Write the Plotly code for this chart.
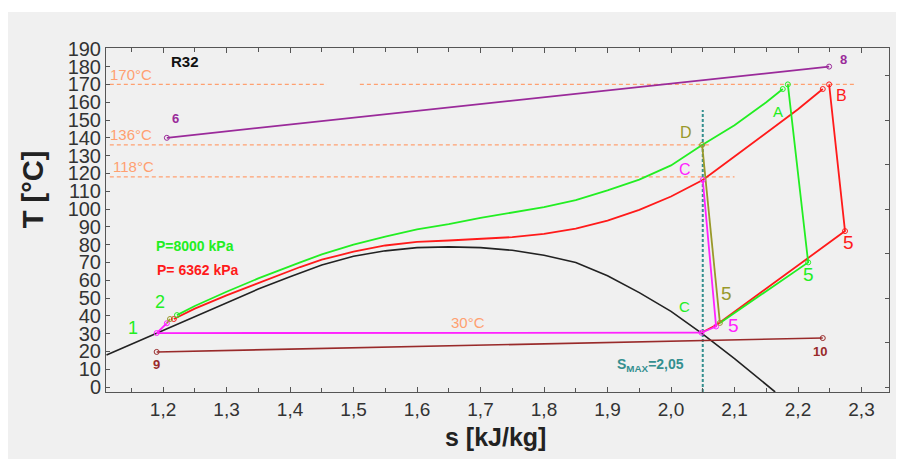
import plotly.graph_objects as go

# ---------------- data ----------------
# saturation dome (black)
dome_s = [1.111, 1.19, 1.25, 1.30, 1.35, 1.40, 1.45, 1.50, 1.55, 1.60, 1.65, 1.70, 1.75, 1.80, 1.85, 1.90, 1.95, 2.00, 2.048, 2.10, 2.164]
dome_T = [18.0, 30.3, 39.5, 47.5, 55.0, 62.0, 68.5, 73.5, 76.5, 78.3, 78.7, 78.3, 76.8, 74.0, 70.0, 62.5, 53.0, 42.5, 30.3, 16.0, -2.8]

# P = 8000 kPa (green)
green_s = [1.222, 1.25, 1.30, 1.35, 1.416, 1.45, 1.50, 1.55, 1.60, 1.65, 1.70, 1.75, 1.80, 1.85, 1.90, 1.95, 2.00, 2.049, 2.10, 2.15, 2.176]
green_T = [40.4, 45.5, 53.5, 61.0, 70.0, 74.5, 80.0, 84.5, 88.5, 91.5, 95.0, 98.0, 101.0, 105.0, 110.5, 116.5, 124.5, 136.0, 147.0, 160.0, 167.4]
green_exp_s = [2.184, 2.216, 2.077]
green_exp_T = [170.0, 70.0, 36.0]

# P = 6362 kPa (red)
red_s = [1.217, 1.25, 1.30, 1.35, 1.416, 1.45, 1.50, 1.55, 1.60, 1.65, 1.70, 1.75, 1.80, 1.85, 1.90, 1.95, 2.00, 2.05, 2.10, 2.15, 2.20, 2.239]
red_T = [38.2, 44.0, 51.5, 58.5, 67.4, 71.5, 76.0, 79.5, 81.5, 82.3, 83.2, 84.2, 86.0, 89.0, 93.5, 99.5, 107.0, 116.3, 129.5, 142.5, 156.0, 167.4]
red_exp_s = [2.249, 2.274, 2.072]
red_exp_T = [170.0, 87.6, 35.0]

# magenta cycle (C -> 5 -> C -> 1 -> up)
mag_s = [2.05, 2.071, 2.048, 1.19, 1.206]
mag_T = [116.3, 34.0, 30.5, 30.3, 35.8]

# olive (D -> 5) and small olive step near 1
olive_s = [2.049, 2.077]
olive_T = [136.0, 36.0]
olive2_s = [1.206, 1.211]
olive2_T = [35.8, 38.2]

# purple 6 -> 8
purple_s = [1.206, 2.249]
purple_T = [140.0, 180.0]

# brown 9 -> 10
brown_s = [1.19, 2.239]
brown_T = [19.7, 27.5]

# reference temperature lines
ref_T = [170, 136, 118]
ref_s_end = [2.29, 2.061, 2.10]
ref_gap = [1.458, 1.51]   # gap in the 170 line

s_max = 2.05
s_max_top = 155.6

x_ticks = [1.2, 1.3, 1.4, 1.5, 1.6, 1.7, 1.8, 1.9, 2.0, 2.1, 2.2, 2.3]
x_ticktext = ["1,2", "1,3", "1,4", "1,5", "1,6", "1,7", "1,8", "1,9", "2,0", "2,1", "2,2", "2,3"]
y_ticks = list(range(0, 200, 10))

X_RANGE = [1.1102, 2.3433]
Y_RANGE = [-2.81, 190.45]

# ---------------- colours ----------------
C_GREEN = "#22ee22"
C_RED = "#ff1a1a"
C_MAG = "#ff22ff"
C_OLIVE = "#99992a"
C_PURPLE = "#9a2a9a"
C_BROWN = "#992a2a"
C_ORANGE = "#ffa070"
C_TEAL = "#348f8f"
FONT = "Arial, Liberation Sans, sans-serif"

fig = go.Figure()

def line(x, y, color, width=1.8, dash=None):
    fig.add_trace(go.Scatter(x=x, y=y, mode="lines",
                             line=dict(color=color, width=width, dash=dash),
                             hoverinfo="skip", showlegend=False))

def pts(x, y, color):
    fig.add_trace(go.Scatter(x=x, y=y, mode="markers",
                             marker=dict(symbol="circle-open", size=5, color=color, line=dict(width=1, color=color)),
                             hoverinfo="skip", showlegend=False))

# reference dashed lines
line([X_RANGE[0] + 0.006, ref_gap[0]], [ref_T[0]] * 2, C_ORANGE, 1.2, "4px,3px")
line([ref_gap[1], ref_s_end[0]], [ref_T[0]] * 2, C_ORANGE, 1.2, "4px,3px")
line([X_RANGE[0] + 0.006, ref_s_end[1]], [ref_T[1]] * 2, C_ORANGE, 1.2, "4px,3px")
line([X_RANGE[0] + 0.006, ref_s_end[2]], [ref_T[2]] * 2, C_ORANGE, 1.2, "4px,3px")

# smax line
line([s_max, s_max], [Y_RANGE[0], s_max_top], C_TEAL, 2.0, "3px,2px")

# dome
line(dome_s, dome_T, "#222222", 1.6)
# brown, purple
line(brown_s, brown_T, C_BROWN, 1.6)
pts(brown_s, brown_T, C_BROWN)
line(purple_s, purple_T, C_PURPLE, 1.8)
pts(purple_s, purple_T, C_PURPLE)
# red and green curves
line(red_s, red_T, C_RED, 1.8)
line(red_exp_s, red_exp_T, C_RED, 1.8)
line([red_exp_s[-1], mag_s[2]], [red_exp_T[-1], mag_T[2]], C_RED, 1.8)
line(green_s, green_T, C_GREEN, 1.8)
line(green_exp_s, green_exp_T, C_GREEN, 1.8)
line(mag_s, mag_T, C_MAG, 1.8)
line(olive_s, olive_T, C_OLIVE, 1.8)
line(olive2_s, olive2_T, C_OLIVE, 1.8)

pts([red_s[0], red_s[-1]] + red_exp_s[:2], [red_T[0], red_T[-1]] + red_exp_T[:2], C_RED)
pts([green_s[0], green_s[-1]] + green_exp_s[:2], [green_T[0], green_T[-1]] + green_exp_T[:2], C_GREEN)
pts(mag_s, mag_T, C_MAG)
pts(olive_s + olive2_s[1:], olive_T + olive2_T[1:], C_OLIVE)

# invisible trace for right axis ticks
fig.add_trace(go.Scatter(x=[None], y=[None], yaxis="y2", showlegend=False, hoverinfo="skip"))

def ann(x, y, text, color, size=13, bold=False):
    t = f"<b>{text}</b>" if bold else text
    fig.add_annotation(x=x, y=y, text=t, showarrow=False, xref="x", yref="y",
                       font=dict(family=FONT, size=size, color=color))

ann(1.2346, 182.6, "R32", "#111111", 15, True)
ann(1.150, 175.8, "170°C", C_ORANGE, 15)
ann(1.150, 142.0, "136°C", C_ORANGE, 15)
ann(1.153, 123.6, "118°C", C_ORANGE, 15)
ann(1.219, 151.0, "6", C_PURPLE, 13, True)
ann(2.271, 184.0, "8", C_PURPLE, 13, True)
ann(1.250, 79.0, "P=8000 kPa", C_GREEN, 14, True)
ann(1.255, 65.7, "P= 6362 kPa", C_RED, 14, True)
ann(1.195, 47.8, "2", C_GREEN, 18)
ann(1.153, 33.0, "1", C_GREEN, 18)
ann(1.680, 36.0, "30°C", C_ORANGE, 15)
ann(1.190, 12.4, "9", C_BROWN, 13, True)
ann(2.235, 19.7, "10", C_BROWN, 13, True)
ann(1.967, 12.4, "S<sub>MAX</sub>=2,05", C_TEAL, 14, True)
ann(2.022, 45.0, "C", C_GREEN, 15)
ann(2.088, 52.8, "5", C_OLIVE, 19)
ann(2.098, 34.3, "5", C_MAG, 19)
ann(2.217, 63.0, "5", C_GREEN, 19)
ann(2.279, 81.0, "5", C_RED, 19)
ann(2.024, 142.7, "D", C_OLIVE, 16)
ann(2.022, 122.0, "C", C_MAG, 16)
ann(2.168, 155.0, "A", C_GREEN, 15)
ann(2.268, 164.0, "B", C_RED, 16)

# axis titles
fig.add_annotation(x=0.4975, y=-0.131, xref="paper", yref="paper", text="<b>s [kJ/kg]</b>",
                   showarrow=False, font=dict(family=FONT, size=25, color="#222222"), yanchor="middle")
fig.add_annotation(x=-0.093, y=0.59, xref="paper", yref="paper", text="<b>T [°C]</b>", textangle=-90,
                   showarrow=False, font=dict(family=FONT, size=29, color="#222222"), xanchor="center",
                   yanchor="middle")

# grey panel background
fig.add_shape(type="rect", xref="paper", yref="paper", x0=-0.1252, x1=1.0090, y0=-0.1948, y1=1.1047,
              fillcolor="#f0f0f0", line=dict(width=0), layer="below")

AX_COLOR = "#555555"
fig.update_layout(
    width=904, height=459,
    margin=dict(l=106, r=15, t=48, b=67),
    paper_bgcolor="white", plot_bgcolor="white",
    font=dict(family=FONT, color="#333333"),
    xaxis=dict(range=X_RANGE, tickvals=x_ticks, ticktext=x_ticktext, ticks="inside", ticklen=5,
               tickcolor=AX_COLOR, showgrid=False, zeroline=False, showline=True, linecolor=AX_COLOR,
               linewidth=1, mirror="ticks", tickfont=dict(size=19, color="#333333"),
               minor=dict(dtick=0.05, tick0=1.0, ticks="inside", ticklen=4, tickcolor=AX_COLOR)),
    yaxis=dict(range=Y_RANGE, tickvals=y_ticks, ticks="inside", ticklen=4, tickcolor=AX_COLOR,
               showgrid=False, zeroline=False, showline=True, linecolor=AX_COLOR, linewidth=1,
               mirror=True, tickfont=dict(size=20, color="#333333")),
    yaxis2=dict(range=Y_RANGE, overlaying="y", side="right", tickvals=list(range(0, 200, 25)),
                ticks="inside", ticklen=4, tickcolor=AX_COLOR, showticklabels=False,
                showgrid=False, zeroline=False, showline=False),
)

fig.write_html("out.html", config={"displayModeBar": False},
               post_script="document.body.style.margin='0px';document.body.style.overflow='hidden';")
